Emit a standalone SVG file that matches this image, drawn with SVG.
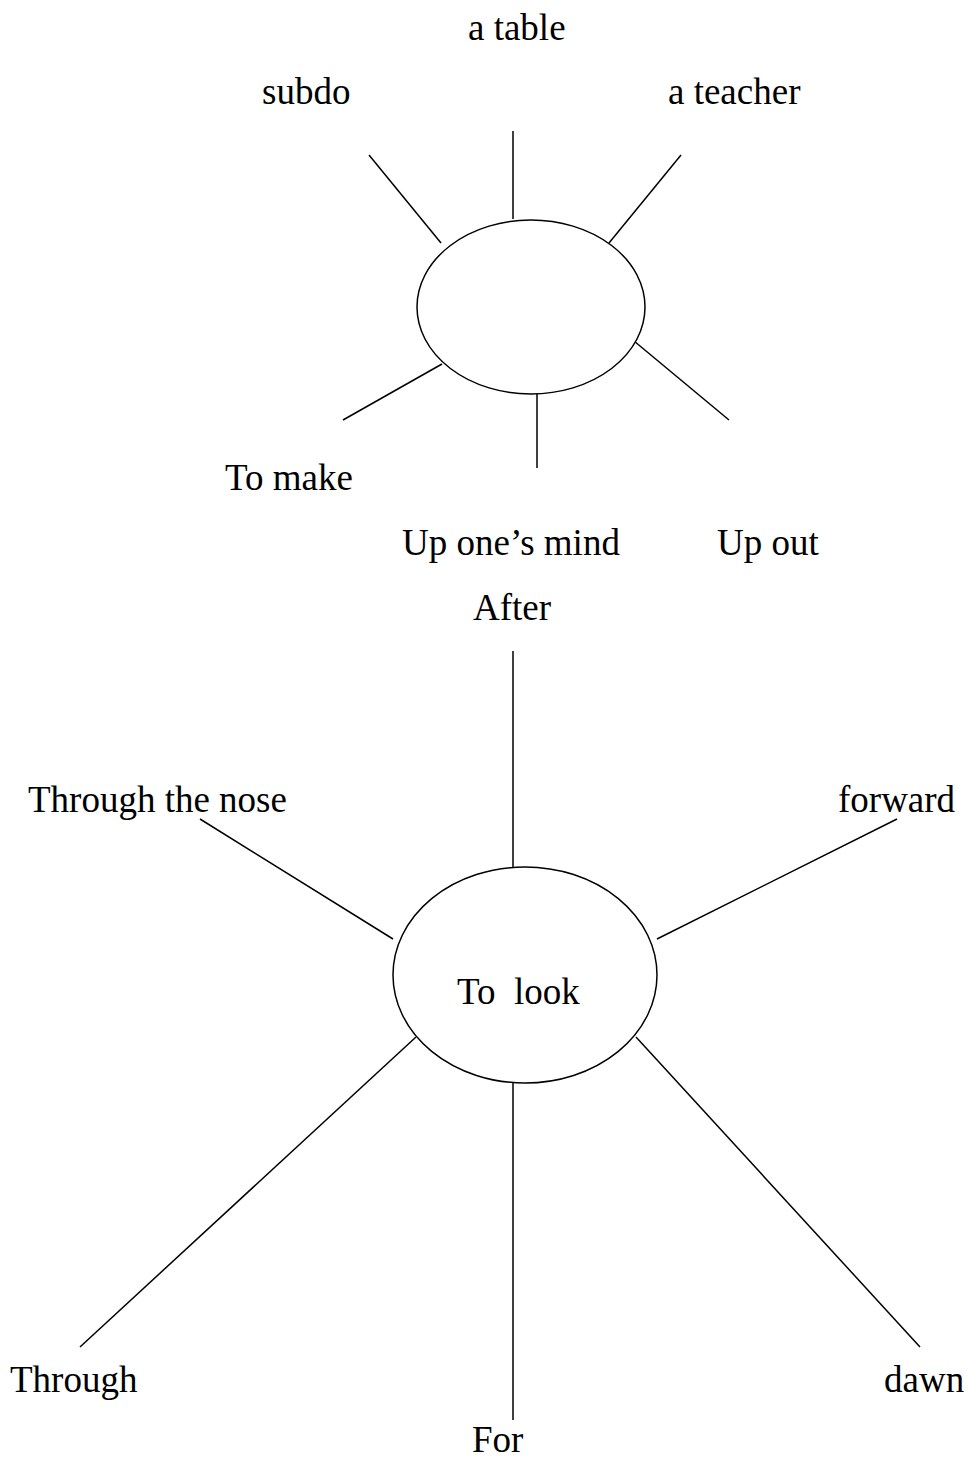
<svg xmlns="http://www.w3.org/2000/svg" width="969" height="1461" viewBox="0 0 969 1461">
<style>
text{font-family:"Liberation Serif","Times New Roman",serif;font-size:37px;fill:#000}
.n{fill:#fff;stroke:#000;stroke-width:1.5}
.c line{stroke:#000;stroke-width:1.5}
</style>
<rect width="969" height="1461" fill="#fff"/>
<g id="connectors" class="c">
<line x1="369" y1="155" x2="441" y2="243"/>
<line x1="513" y1="131" x2="513" y2="219"/>
<line x1="681" y1="155" x2="609" y2="243"/>
<line x1="343" y1="420" x2="442" y2="364"/>
<line x1="537" y1="388" x2="537" y2="468"/>
<line x1="634" y1="341" x2="729" y2="420"/>
<line x1="513" y1="651" x2="513" y2="867"/>
<line x1="200" y1="819" x2="393" y2="939"/>
<line x1="897" y1="819" x2="657" y2="939"/>
<line x1="80" y1="1347" x2="416" y2="1037"/>
<line x1="513" y1="1083" x2="513" y2="1420"/>
<line x1="920" y1="1347" x2="636" y2="1037"/>
</g>
<g id="hub1"><ellipse class="n" cx="531" cy="307" rx="114" ry="87"/></g>
<g id="hub2"><ellipse class="n" cx="525" cy="975" rx="132" ry="108"/><text x="457" y="1004" xml:space="preserve">To  look</text></g>
<g id="n-table"><text x="468" y="40">a table</text></g>
<g id="n-subdo"><text x="262" y="104">subdo</text></g>
<g id="n-teacher"><text x="668" y="104">a teacher</text></g>
<g id="n-make"><text x="225" y="490">To make</text></g>
<g id="n-mind"><text x="402" y="555">Up one’s mind</text></g>
<g id="n-upout"><text x="717" y="555">Up out</text></g>
<g id="n-after"><text x="473" y="620">After</text></g>
<g id="n-nose"><text x="28" y="812">Through the nose</text></g>
<g id="n-forward"><text x="838" y="812">forward</text></g>
<g id="n-through"><text x="10" y="1392">Through</text></g>
<g id="n-dawn"><text x="884" y="1392">dawn</text></g>
<g id="n-for"><text x="472" y="1452">For</text></g>
</svg>
